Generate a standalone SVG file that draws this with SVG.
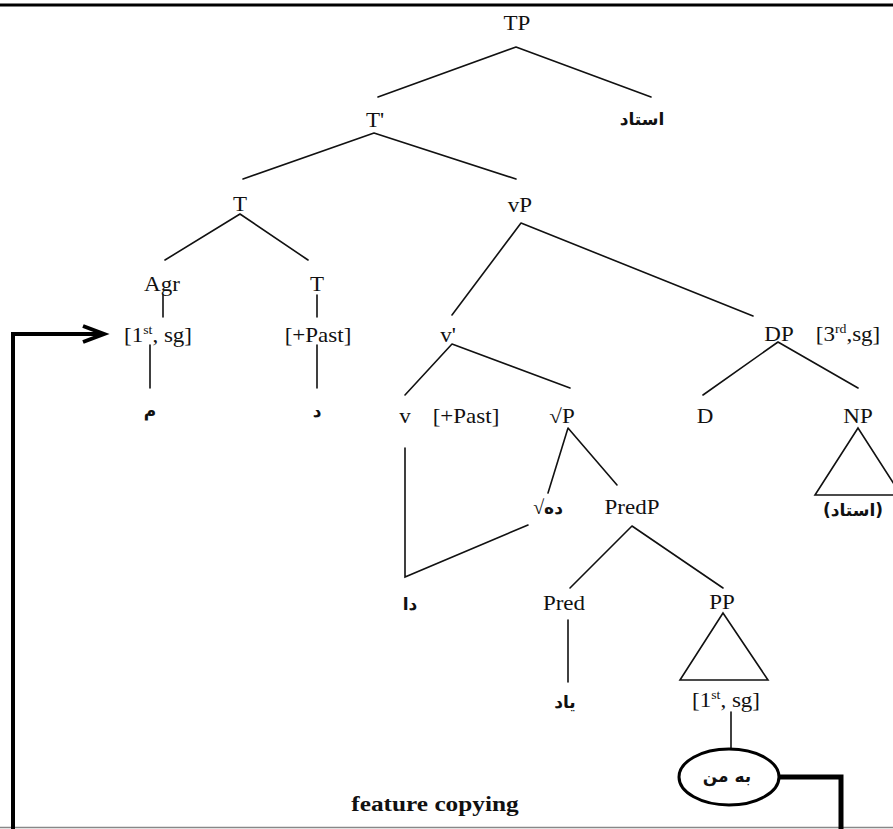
<svg xmlns="http://www.w3.org/2000/svg" width="893" height="829" viewBox="0 0 893 829">
<style>
.t{font-family:"Liberation Serif","Times New Roman",serif;font-size:20px;fill:#111;text-anchor:middle}
.a{font-family:"DejaVu Sans","Liberation Serif",sans-serif;font-size:17px;font-weight:bold;fill:#111;text-anchor:middle}
.sup{font-size:12px}
.b{font-family:"Liberation Serif",serif;font-size:22px;font-weight:bold;fill:#111;text-anchor:middle}
.e{stroke:#111;stroke-width:1.6;fill:none;stroke-linecap:round}
.th{stroke:#000;fill:none}
</style>
<rect width="893" height="829" fill="#fff"/>
<line x1="0" y1="5" x2="893" y2="5" stroke="#000" stroke-width="3"/>
<line x1="0" y1="827.5" x2="893" y2="827.5" stroke="#888" stroke-width="1.5"/>
<g id="connectors">
<path class="e" d="M516,47 L378,97 M516,47 L651,97"/>
<path class="e" d="M374,133 L243,179 M374,133 L516,179"/>
<path class="e" d="M240,214 L165,260 M240,214 L308,260"/>
<path class="e" d="M163,295 L163,317 M317,295 L317,317"/>
<path class="e" d="M150,345 L150,388 M317,345 L317,388"/>
<path class="e" d="M521,223 L452,315 M521,223 L753,316"/>
<path class="e" d="M452,344 L405,395 M452,344 L570,388"/>
<path class="e" d="M778,342 L703,395 M778,342 L858,388"/>
<path class="e" d="M568,428 L548,493 M568,428 L617,485"/>
<path class="e" d="M405,448 L405,577 L528,525"/>
<path class="e" d="M632,526 L570,588 M632,526 L723,588"/>
<path class="e" d="M568,620 L568,682"/>
<path class="e" d="M731,712 L731,749"/>
<path class="th" stroke-width="5" d="M779,777 L841,777 L841,829"/>
<path class="th" stroke-width="4" d="M13,829 L13,334 L102,334"/>
<path class="th" stroke-width="4" stroke-linejoin="miter" d="M83,326 L104,334 L83,342"/>
</g>
<g id="TP"><text class="t" transform="translate(517,30) scale(1.15,1)">TP</text></g>
<g id="Tbar"><text class="t" transform="translate(375,127) scale(1.15,1)">T'</text></g>
<g id="ostad"><text class="a" x="642" y="125">استاد</text></g>
<g id="T"><text class="t" transform="translate(240,211) scale(1.15,1)">T</text></g>
<g id="vP"><text class="t" transform="translate(520,212) scale(1.15,1)">vP</text></g>
<g id="Agr"><text class="t" transform="translate(162,291) scale(1.15,1)">Agr</text></g>
<g id="T2"><text class="t" transform="translate(317,291) scale(1.15,1)">T</text></g>
<g id="feat1"><text class="t" transform="translate(158,342) scale(1.15,1)">[1<tspan class="sup" dy="-8">st</tspan><tspan dy="8">, sg]</tspan></text></g>
<g id="past1"><text class="t" transform="translate(318,342) scale(1.15,1)">[+Past]</text></g>
<g id="vbar"><text class="t" transform="translate(448,342) scale(1.15,1)">v'</text></g>
<g id="DP"><text class="t" transform="translate(779,341) scale(1.15,1)">DP</text></g>
<g id="feat3"><text class="t" transform="translate(848,341) scale(1.15,1)">[3<tspan class="sup" dy="-8">rd</tspan><tspan dy="8">,sg]</tspan></text></g>
<g id="am"><text class="a" x="150" y="417">م</text></g>
<g id="d"><text class="a" x="317" y="417">د</text></g>
<g id="v"><text class="t" transform="translate(405,423) scale(1.15,1)">v</text></g>
<g id="past2"><text class="t" transform="translate(466,423) scale(1.15,1)">[+Past]</text></g>
<g id="rootP"><text class="t" transform="translate(562,423) scale(1.15,1)">√P</text></g>
<g id="D"><text class="t" transform="translate(705,423) scale(1.15,1)">D</text></g>
<g id="NP"><text class="t" transform="translate(858,423) scale(1.15,1)">NP</text>
<path class="e" d="M858,428 L815,495 L901,495 Z"/></g>
<g id="ostad2"><text class="a" x="853" y="516">(استاد)</text></g>
<g id="root"><text class="a" x="548" y="514"><tspan style="font-family:'Liberation Serif',serif;font-weight:normal;font-size:20px">√</tspan>ده</text></g>
<g id="PredP"><text class="t" transform="translate(632,514) scale(1.15,1)">PredP</text></g>
<g id="da"><text class="a" x="410" y="610">دا</text></g>
<g id="Pred"><text class="t" transform="translate(564,610) scale(1.15,1)">Pred</text></g>
<g id="PP"><text class="t" transform="translate(722,609) scale(1.15,1)">PP</text>
<path class="e" d="M723,613 L680,680 L768,680 Z"/></g>
<g id="yad"><text class="a" x="565" y="708">یاد</text></g>
<g id="feat4"><text class="t" transform="translate(726,707) scale(1.15,1)">[1<tspan class="sup" dy="-8">st</tspan><tspan dy="8">, sg]</tspan></text></g>
<g id="beman"><ellipse cx="729" cy="777" rx="50" ry="28" fill="#fff" stroke="#000" stroke-width="3"/>
<text class="a" x="727" y="782">به من</text></g>
<g id="label"><text class="b" transform="translate(435,811) scale(1.15,1)">feature copying</text></g>
</svg>
